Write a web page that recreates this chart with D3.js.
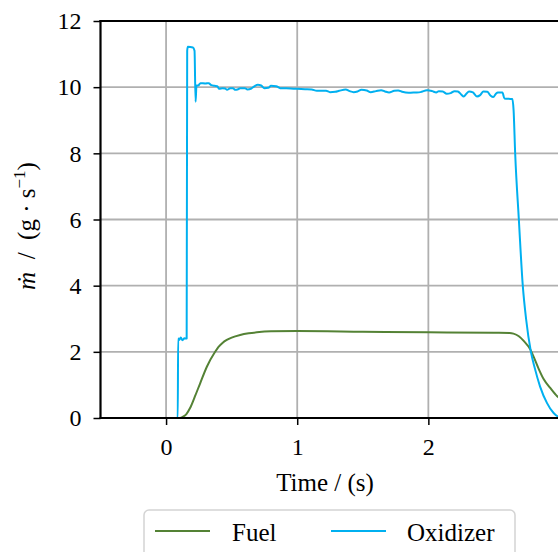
<!DOCTYPE html>
<html>
<head>
<meta charset="utf-8">
<script src="https://cdn.jsdelivr.net/npm/d3@7"></script>
<style>
  html, body { margin: 0; padding: 0; background: #fff; }
  svg { display: block; }
  svg text { font-family: "Liberation Serif", "DejaVu Serif", serif !important; }
</style>
</head>
<body>
<svg id="chart" width="558" height="552"></svg>
<script>
// Mass flow rates of a hot-fire test, g/s over time in seconds
const fuelTime = [-0.5, 0.105, 0.13, 0.155, 0.183, 0.22, 0.26, 0.311, 0.374, 0.40, 0.43, 0.463, 0.50,
  0.565, 0.63, 0.692, 0.80, 1.0, 1.5, 2.0, 2.5, 2.62, 2.649, 2.69, 2.727, 2.779, 2.804, 2.842,
  2.88, 2.931, 2.982, 3.0];
const fuelRate = [0, 0, 0.04, 0.12, 0.3, 0.65, 1.05, 1.55, 2.0, 2.15, 2.27, 2.36, 2.43,
  2.51, 2.56, 2.59, 2.62, 2.63, 2.61, 2.59, 2.575, 2.57, 2.55, 2.47, 2.33, 2.06, 1.84, 1.48,
  1.17, 0.9, 0.66, 0.6];

const oxTime = [-0.5, 0.089, 0.092, 0.100, 0.112, 0.125, 0.140, 0.157, 0.161, 0.166, 0.205, 0.217,
  0.225, 0.232, 0.245, 0.262, 0.300, 0.325, 0.345, 0.370, 0.390, 0.405, 0.430, 0.450, 0.465,
  0.490, 0.510, 0.525, 0.545, 0.565, 0.600, 0.620, 0.650, 0.675, 0.700, 0.725, 0.750, 0.780,
  0.800, 0.840, 0.870, 0.950, 1.000, 1.060, 1.110, 1.150, 1.220, 1.250, 1.290, 1.320, 1.370,
  1.400, 1.430, 1.460, 1.490, 1.530, 1.560, 1.600, 1.640, 1.670, 1.700, 1.740, 1.770, 1.800,
  1.850, 1.900, 1.940, 1.990, 2.030, 2.060, 2.080, 2.110, 2.140, 2.170, 2.200, 2.225, 2.250,
  2.270, 2.290, 2.310, 2.340, 2.370, 2.395, 2.420, 2.450, 2.475, 2.495, 2.515, 2.530, 2.565,
  2.580, 2.640, 2.650, 2.662, 2.690, 2.720, 2.745, 2.782, 2.812, 2.852, 2.905, 2.955, 2.990,
  3.000];
const oxRate = [0, 0, 2.40, 2.36, 2.43, 2.35, 2.41, 2.40, 11.10, 11.22, 11.20, 11.10,
  9.56, 10.05, 10.05, 10.12, 10.11, 10.12, 10.06, 10.04, 10.03, 9.95, 9.97, 9.96, 9.92,
  9.97, 9.97, 9.92, 9.93, 9.97, 9.97, 9.93, 9.96, 10.03, 10.07, 10.05, 9.97, 9.98,
  10.04, 10.03, 9.97, 9.96, 9.95, 9.94, 9.93, 9.89, 9.89, 9.85, 9.86, 9.89, 9.93,
  9.88, 9.85, 9.87, 9.92, 9.90, 9.85, 9.88, 9.91, 9.87, 9.84, 9.89, 9.90, 9.86,
  9.83, 9.84, 9.85, 9.91, 9.88, 9.84, 9.88, 9.87, 9.80, 9.82, 9.88, 9.87, 9.78,
  9.72, 9.80, 9.87, 9.84, 9.72, 9.76, 9.87, 9.86, 9.74, 9.70, 9.80, 9.84, 9.84,
  9.66, 9.64, 9.30, 8.00, 6.00, 4.00, 3.00, 2.00, 1.50, 0.95, 0.45, 0.15, 0.04,
  0.03];

const xTicks = [0, 1, 2];
const yTicks = [0, 2, 4, 6, 8, 10, 12];
const seriesNames = ["Fuel", "Oxidizer"];
const seriesColors = ["#548235", "#00b0f0"];

const serif = "Liberation Serif, DejaVu Serif, serif";
const svg = d3.select("#chart");
const plotL = 100.5, plotR = 559.5, plotT = 21, plotB = 418;

const x = d3.scaleLinear().domain([-0.5, 3.0]).range([plotL, plotR]);
const y = d3.scaleLinear().domain([0, 12]).range([plotB, plotT]);

svg.append("defs").append("clipPath").attr("id", "plotClip")
  .append("rect").attr("x", plotL).attr("y", plotT).attr("width", plotR - plotL).attr("height", plotB - plotT);

// grid
const grid = svg.append("g");
grid.selectAll(".gx").data(xTicks).join("line")
  .attr("x1", d => x(d)).attr("x2", d => x(d)).attr("y1", plotT).attr("y2", plotB)
  .attr("stroke", "#b0b0b0").attr("stroke-width", 1.8);
grid.selectAll(".gy").data(yTicks).join("line")
  .attr("x1", plotL).attr("x2", plotR).attr("y1", d => y(d)).attr("y2", d => y(d))
  .attr("stroke", "#b0b0b0").attr("stroke-width", 1.8);

// series
const series = [
  fuelTime.map((t, i) => [t, fuelRate[i]]),
  oxTime.map((t, i) => [t, oxRate[i]])
];
const line = d3.line().x(d => x(d[0])).y(d => y(d[1])).curve(d3.curveMonotoneX);
svg.append("g").attr("clip-path", "url(#plotClip)")
  .selectAll("path").data(series).join("path")
  .attr("d", line).attr("fill", "none")
  .attr("stroke", (d, i) => seriesColors[i]).attr("stroke-width", 2)
  .attr("stroke-linejoin", "round");

// axes
const xAxis = d3.axisBottom(x).tickValues(xTicks).tickFormat(d3.format("d")).tickSize(7).tickPadding(13);
const yAxis = d3.axisLeft(y).tickValues(yTicks).tickFormat(d3.format("d")).tickSize(7).tickPadding(12);

const gx = svg.append("g").attr("transform", `translate(0,${plotB})`).call(xAxis);
const gy = svg.append("g").attr("transform", `translate(${plotL},0)`).call(yAxis);
[gx, gy].forEach(g => {
  g.select(".domain").remove();
  g.selectAll(".tick line").attr("stroke", "#000").attr("stroke-width", 1.5);
  g.selectAll(".tick text").attr("font-size", 24).attr("font-family", serif).attr("fill", "#000");
});

// spines
svg.append("line").attr("x1", plotL).attr("x2", plotL).attr("y1", plotT - 1).attr("y2", plotB + 1)
  .attr("stroke", "#000").attr("stroke-width", 2.2);
svg.append("line").attr("x1", plotL - 1).attr("x2", plotR + 1).attr("y1", plotB).attr("y2", plotB)
  .attr("stroke", "#000").attr("stroke-width", 2.2);
svg.append("line").attr("x1", plotL - 1).attr("x2", plotR + 1).attr("y1", plotT).attr("y2", plotT)
  .attr("stroke", "#000").attr("stroke-width", 2.2);
svg.append("line").attr("x1", plotR).attr("x2", plotR).attr("y1", plotT).attr("y2", plotB)
  .attr("stroke", "#000").attr("stroke-width", 2.2);

// axis labels
svg.append("text").attr("x", 325).attr("y", 491).attr("text-anchor", "middle")
  .attr("font-family", serif).attr("font-size", 25).attr("fill", "#000")
  .text("Time / (s)");

const yl = svg.append("text").attr("transform", "translate(35,226) rotate(-90)")
  .attr("text-anchor", "middle").attr("font-family", serif).attr("font-size", 25)
  .attr("fill", "#000").style("white-space", "pre");
yl.append("tspan").attr("font-style", "italic").text("ṁ");
yl.append("tspan").text("  /  (g · s");
yl.append("tspan").attr("font-size", 17).attr("dy", -10).text("−1");
yl.append("tspan").attr("dy", 10).text(")");

// legend
const lg = svg.append("g").attr("font-family", serif);
lg.append("rect").attr("x", 144).attr("y", 510).attr("width", 371).attr("height", 60)
  .attr("rx", 5).attr("fill", "#fff").attr("fill-opacity", 0.8)
  .attr("stroke", "#d4d4d4").attr("stroke-width", 1.5);
const entries = [{ x0: 155, tx: 232 }, { x0: 331, tx: 407 }];
entries.forEach((e, i) => {
  lg.append("line").attr("x1", e.x0).attr("x2", e.x0 + 55).attr("y1", 531).attr("y2", 531)
    .attr("stroke", seriesColors[i]).attr("stroke-width", 2);
  lg.append("text").attr("x", e.tx).attr("y", 541)
    .style("font-family", serif).attr("font-size", 25).attr("fill", "#000").text(seriesNames[i]);
});
</script>
</body>
</html>
